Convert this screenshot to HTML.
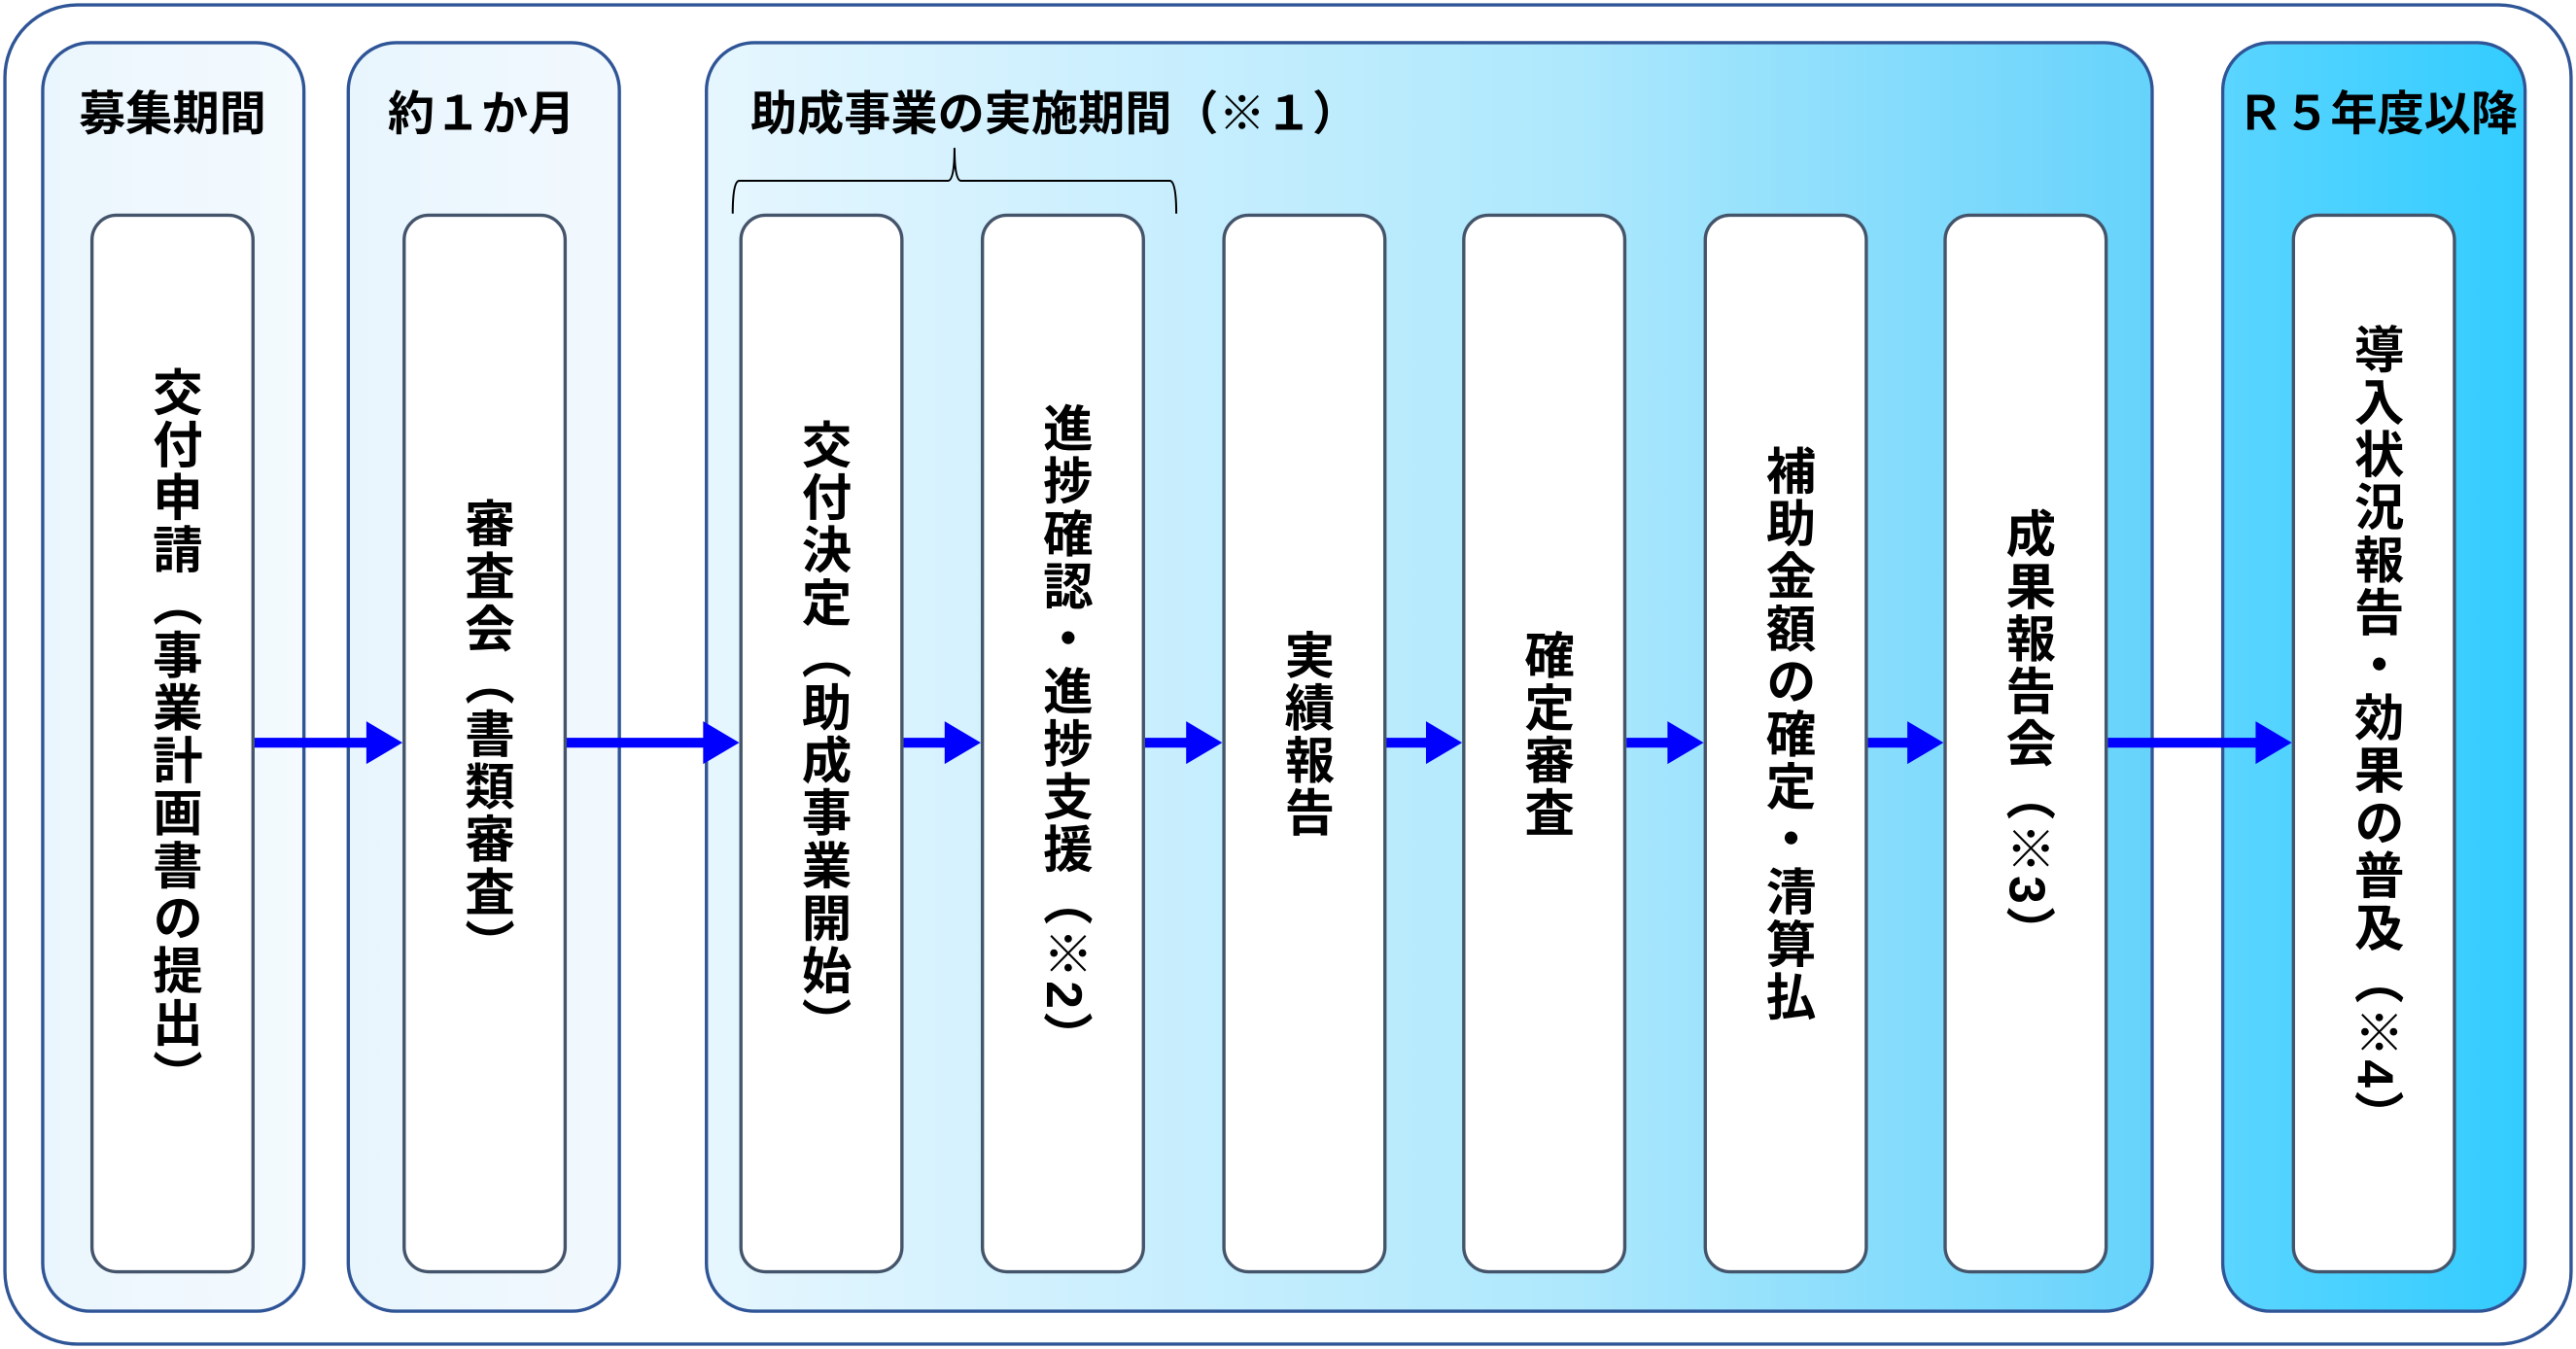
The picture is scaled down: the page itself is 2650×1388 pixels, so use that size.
<!DOCTYPE html>
<html><head><meta charset="utf-8"><style>
html,body{margin:0;padding:0;background:#fff;}
#wrap{position:relative;width:1568px;height:821px;transform:scale(1.69005,1.6906);transform-origin:0 0;font-family:"Liberation Sans","Noto Sans CJK JP",sans-serif;}
.abs{position:absolute;box-sizing:border-box;}
.grp{border:2px solid #2f5597;border-radius:30px;}
.lbl{position:absolute;top:47px;font-size:28.5px;font-weight:bold;white-space:nowrap;text-align:center;transform:translateX(-50%);color:#000;}
.box{position:absolute;top:130px;width:100px;height:645px;background:#fff;border:2.5px solid #44546a;border-radius:16px;box-sizing:border-box;display:flex;align-items:center;justify-content:center;}
.box span{writing-mode:vertical-rl;font-size:30.5px;font-weight:bold;line-height:1;letter-spacing:1.5px;margin-top:-12px;}
</style></head><body><div id="wrap">
<div class="abs" style="left:2px;top:2px;width:1564px;height:817px;border:2px solid #2f5597;border-radius:45px;"></div>
<div class="abs grp" style="left:25px;top:25px;width:161px;height:774px;background:linear-gradient(90deg,#eaf6fd,#f4fafe);"></div>
<div class="abs grp" style="left:211px;top:25px;width:167px;height:774px;background:linear-gradient(90deg,#e8f5fd,#f2f9fe);"></div>
<div class="abs grp" style="left:429px;top:25px;width:882px;height:774px;background:linear-gradient(90deg,#e6f6fe,#aee8fd 60%,#66d3fb);"></div>
<div class="abs grp" style="left:1352px;top:25px;width:186px;height:774px;background:linear-gradient(90deg,#5ad5ff,#33ccff);"></div>
<div class="lbl" style="left:105px">募集期間</div>
<div class="lbl" style="left:293px">約１か月</div>
<div class="lbl" style="left:642px">助成事業の実施期間（※１）</div>
<div class="lbl" style="left:1447px">Ｒ５年度以降</div>
<svg class="abs" style="left:0;top:0" width="1568" height="821">
<path d="M446 130 Q446 110 450 110 L577 110 Q581 110 581 90 Q581 110 585 110 L712 110 Q716 110 716 130" fill="none" stroke="#000" stroke-width="1.2"/>
<g fill="#0000ff">
<path d="M155 449h68v-10l22 13-22 13v-10h-68z"/>
<path d="M344 449h84v-10l22 13-22 13v-10h-84z"/>
<path d="M550 449h25v-10l22 13-22 13v-10h-25z"/>
<path d="M697 449h25v-10l22 13-22 13v-10h-25z"/>
<path d="M843 449h25v-10l22 13-22 13v-10h-25z"/>
<path d="M990 449h25v-10l22 13-22 13v-10h-25z"/>
<path d="M1137 449h24v-10l22 13-22 13v-10h-24z"/>
<path d="M1283 449h90v-10l22 13-22 13v-10h-90z"/>
</g></svg>
<div class="box" style="left:55px"><span>交付申請（事業計画書の提出）</span></div>
<div class="box" style="left:245px"><span>審査会（書類審査）</span></div>
<div class="box" style="left:450px"><span>交付決定（助成事業開始）</span></div>
<div class="box" style="left:597px"><span>進捗確認・進捗支援（※2）</span></div>
<div class="box" style="left:744px"><span>実績報告</span></div>
<div class="box" style="left:890px"><span>確定審査</span></div>
<div class="box" style="left:1037px"><span>補助金額の確定・清算払</span></div>
<div class="box" style="left:1183px"><span>成果報告会（※3）</span></div>
<div class="box" style="left:1395px"><span>導入状況報告・効果の普及（※4）</span></div>
</div></body></html>
